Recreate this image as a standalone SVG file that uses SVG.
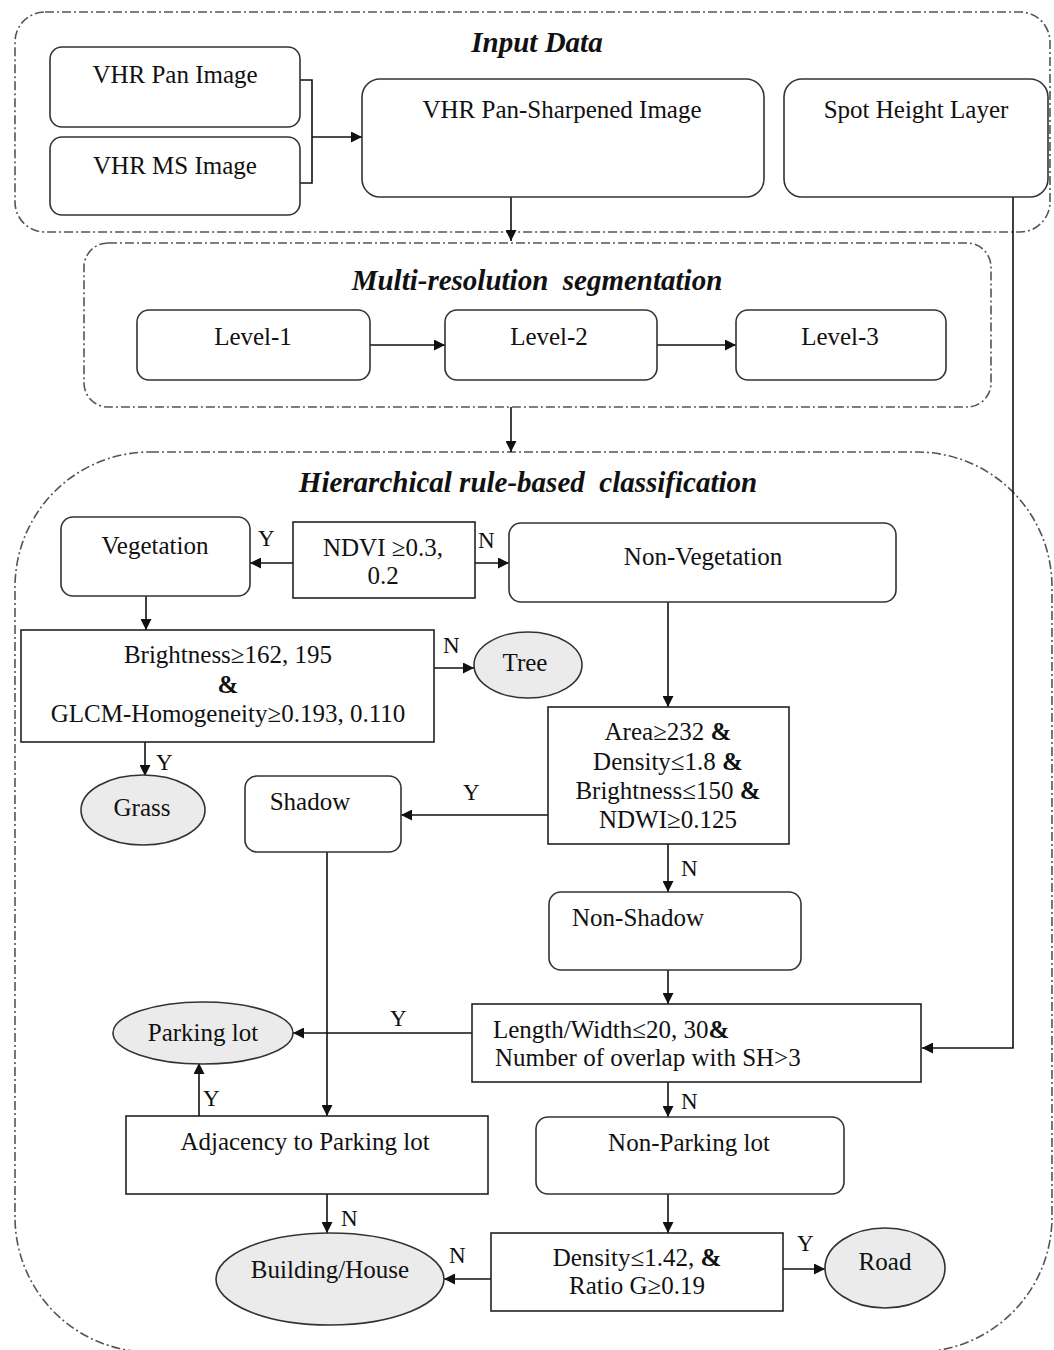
<svg xmlns="http://www.w3.org/2000/svg" width="1054" height="1350" viewBox="0 0 1054 1350">
<defs>
<style>
.cont{fill:none;stroke:#555;stroke-width:1.6;stroke-dasharray:9,3,2,3}
.rb{fill:#fff;stroke:#333;stroke-width:1.6}
.sq{fill:#fff;stroke:#222;stroke-width:1.6}
.el{fill:#ebebeb;stroke:#333;stroke-width:1.6}
.t{font-family:"Liberation Serif","Times New Roman",serif;font-size:25px;fill:#111;text-anchor:middle}
.tl{font-family:"Liberation Serif","Times New Roman",serif;font-size:25px;fill:#111}
.ti{font-family:"Liberation Serif","Times New Roman",serif;font-size:29px;font-weight:bold;font-style:italic;fill:#111;text-anchor:middle}
.lab{font-family:"Liberation Serif","Times New Roman",serif;font-size:23px;fill:#111}
.c{fill:none;stroke:#111;stroke-width:1.6}
.ca{fill:none;stroke:#111;stroke-width:1.6;marker-end:url(#ah)}
</style>
<marker id="ah" viewBox="0 0 10 10" refX="10" refY="5" markerWidth="12" markerHeight="11" markerUnits="userSpaceOnUse" orient="auto"><path d="M0,0 L10,5 L0,10 z" fill="#111"/></marker>
</defs>
<rect width="1054" height="1350" fill="#fff"/>

<g id="containers">
<rect id="input-data" class="cont" x="15" y="12" width="1035" height="220" rx="30"/>
<text class="ti" x="537" y="52">Input Data</text>
<rect id="multi-res" class="cont" x="84" y="243" width="907" height="164" rx="24"/>
<text class="ti" x="537" y="290" xml:space="preserve">Multi-resolution  segmentation</text>
<rect id="hier" class="cont" x="15" y="452" width="1037" height="900" rx="135"/>
<text class="ti" x="528" y="492" xml:space="preserve">Hierarchical rule-based  classification</text>
</g>

<g id="connectors">
<path class="c" d="M300,80 H312 V183 H300"/>
<path class="ca" d="M312,137 H362"/>
<path class="ca" d="M511,197 V241"/>
<path class="ca" d="M370,345 H445"/>
<path class="ca" d="M657,345 H736"/>
<path class="ca" d="M511,407 V452"/>
<path class="ca" d="M1013,197 V1048 H922"/>
<path class="ca" d="M293,563 H250"/>
<path class="ca" d="M475,563 H509"/>
<path class="ca" d="M146,596 V630"/>
<path class="ca" d="M434,668 H474"/>
<path class="ca" d="M145,742 V776"/>
<path class="ca" d="M668,602 V707"/>
<path class="ca" d="M548,815 H401"/>
<path class="ca" d="M668,844 V892"/>
<path class="ca" d="M668,970 V1004"/>
<path class="ca" d="M472,1033 H293"/>
<path class="ca" d="M327,852 V1116"/>
<path class="ca" d="M199,1116 V1063"/>
<path class="ca" d="M327,1194 V1233"/>
<path class="ca" d="M668,1082 V1117"/>
<path class="ca" d="M668,1194 V1233"/>
<path class="ca" d="M491,1279 H444"/>
<path class="ca" d="M783,1269 H825"/>
<text class="lab" x="258" y="546">Y</text>
<text class="lab" x="478" y="548">N</text>
<text class="lab" x="443" y="653">N</text>
<text class="lab" x="156" y="770">Y</text>
<text class="lab" x="463" y="800">Y</text>
<text class="lab" x="681" y="876">N</text>
<text class="lab" x="390" y="1026">Y</text>
<text class="lab" x="203" y="1106">Y</text>
<text class="lab" x="681" y="1109">N</text>
<text class="lab" x="341" y="1226">N</text>
<text class="lab" x="449" y="1263">N</text>
<text class="lab" x="797" y="1251">Y</text>
</g>

<g id="vhr-pan"><rect class="rb" x="50" y="47" width="250" height="80" rx="12"/><text class="t" x="175" y="83">VHR Pan Image</text></g>
<g id="vhr-ms"><rect class="rb" x="50" y="137" width="250" height="78" rx="12"/><text class="t" x="175" y="174">VHR MS Image</text></g>
<g id="pan-sharp"><rect class="rb" x="362" y="79" width="402" height="118" rx="18"/><text class="t" x="562" y="118">VHR Pan-Sharpened Image</text></g>
<g id="spot-height"><rect class="rb" x="784" y="79" width="264" height="118" rx="18"/><text class="t" x="916" y="118">Spot Height Layer</text></g>

<g id="level1"><rect class="rb" x="137" y="310" width="233" height="70" rx="12"/><text class="t" x="253" y="345">Level-1</text></g>
<g id="level2"><rect class="rb" x="445" y="310" width="212" height="70" rx="12"/><text class="t" x="549" y="345">Level-2</text></g>
<g id="level3"><rect class="rb" x="736" y="310" width="210" height="70" rx="12"/><text class="t" x="840" y="345">Level-3</text></g>

<g id="vegetation"><rect class="rb" x="61" y="517" width="189" height="79" rx="12"/><text class="t" x="155" y="554">Vegetation</text></g>
<g id="ndvi"><rect class="sq" x="293" y="522" width="182" height="76"/><text class="t" x="383" y="556">NDVI ≥0.3,</text><text class="t" x="383" y="584">0.2</text></g>
<g id="non-vegetation"><rect class="rb" x="509" y="523" width="387" height="79" rx="12"/><text class="t" x="703" y="565">Non-Vegetation</text></g>

<g id="brightness"><rect class="sq" x="21" y="630" width="413" height="112"/><text class="t" x="228" y="663">Brightness≥162, 195</text><text class="t" x="228" y="693" font-weight="bold">&amp;</text><text class="t" x="228" y="722">GLCM-Homogeneity≥0.193, 0.110</text></g>
<g id="tree"><ellipse class="el" cx="528" cy="665" rx="54" ry="33"/><text class="t" x="525" y="671">Tree</text></g>
<g id="grass"><ellipse class="el" cx="143" cy="810" rx="62" ry="35"/><text class="t" x="142" y="816">Grass</text></g>
<g id="shadow"><rect class="rb" x="245" y="776" width="156" height="76" rx="12"/><text class="t" x="310" y="810">Shadow</text></g>

<g id="area"><rect class="sq" x="548" y="707" width="241" height="137"/>
<text class="t" x="668" y="740">Area≥232 <tspan font-weight="bold">&amp;</tspan></text>
<text class="t" x="668" y="770">Density≤1.8 <tspan font-weight="bold">&amp;</tspan></text>
<text class="t" x="668" y="799">Brightness≤150 <tspan font-weight="bold">&amp;</tspan></text>
<text class="t" x="668" y="828">NDWI≥0.125</text></g>

<g id="non-shadow"><rect class="rb" x="549" y="892" width="252" height="78" rx="12"/><text class="t" x="638" y="926">Non-Shadow</text></g>

<g id="length-width"><rect class="sq" x="472" y="1004" width="449" height="78"/>
<text class="tl" x="493" y="1038">Length/Width≤20, 30<tspan font-weight="bold">&amp;</tspan></text>
<text class="tl" x="495" y="1066">Number of overlap with SH&gt;3</text></g>

<g id="parking-lot"><ellipse class="el" cx="203" cy="1033" rx="90" ry="31"/><text class="t" x="203" y="1041">Parking lot</text></g>
<g id="adjacency"><rect class="sq" x="126" y="1116" width="362" height="78"/><text class="t" x="305" y="1150">Adjacency to Parking lot</text></g>
<g id="non-parking"><rect class="rb" x="536" y="1117" width="308" height="77" rx="12"/><text class="t" x="689" y="1151">Non-Parking lot</text></g>
<g id="building"><ellipse class="el" cx="330" cy="1279" rx="114" ry="46"/><text class="t" x="330" y="1278">Building/House</text></g>
<g id="density"><rect class="sq" x="491" y="1233" width="292" height="78"/><text class="t" x="637" y="1266">Density≤1.42, <tspan font-weight="bold">&amp;</tspan></text><text class="t" x="637" y="1294">Ratio G≥0.19</text></g>
<g id="road"><ellipse class="el" cx="885" cy="1268" rx="60" ry="40"/><text class="t" x="885" y="1270">Road</text></g>
</svg>
